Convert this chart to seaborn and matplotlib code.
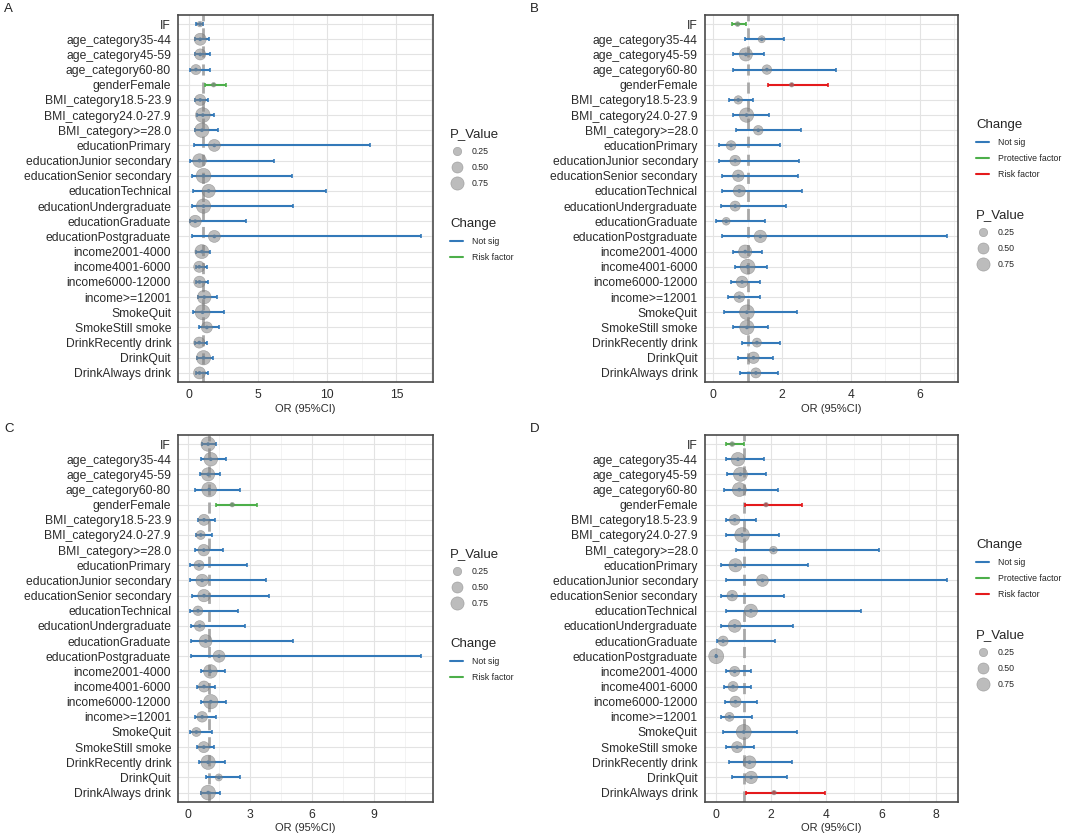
import matplotlib
matplotlib.use("Agg")
import matplotlib.pyplot as plt
from matplotlib.lines import Line2D
from matplotlib.ticker import MultipleLocator
import numpy as np
import pandas as pd
import seaborn as sns


sns.set_theme(style="white")
plt.rcParams["font.family"] = ["Liberation Sans", "DejaVu Sans"]

variables = [
    "IF", "age_category35-44", "age_category45-59", "age_category60-80",
    "genderFemale", "BMI_category18.5-23.9", "BMI_category24.0-27.9",
    "BMI_category>=28.0", "educationPrimary", "educationJunior secondary",
    "educationSenior secondary", "educationTechnical", "educationUndergraduate",
    "educationGraduate", "educationPostgraduate", "income2001-4000",
    "income4001-6000", "income6000-12000", "income>=12001", "SmokeQuit",
    "SmokeStill smoke", "DrinkRecently drink", "DrinkQuit", "DrinkAlways drink",
]

# panel A
or_a = [0.80, 0.82, 0.82, 0.51, 1.79, 0.82, 1.01, 0.94, 1.84, 0.77, 1.06, 1.43,
        1.06, 0.46, 1.84, 0.94, 0.75, 0.77, 1.11, 0.99, 1.30, 0.75, 1.06, 0.77]
lo_a = [0.53, 0.46, 0.41, 0.05, 1.14, 0.46, 0.58, 0.41, 0.39, 0.05, 0.22, 0.29,
        0.22, 0.05, 0.22, 0.53, 0.48, 0.48, 0.65, 0.29, 0.70, 0.46, 0.58, 0.48]
hi_a = [1.01, 1.43, 1.55, 1.50, 2.71, 1.35, 1.79, 2.08, 13.06, 6.14, 7.46, 9.88,
        7.54, 4.13, 16.8, 1.50, 1.30, 1.35, 2.03, 2.51, 2.20, 1.30, 1.71, 1.38]
p_a = [0.06, 0.60, 0.50, 0.40, 0.01, 0.50, 0.95, 0.90, 0.60, 0.80, 0.95, 0.75,
       0.90, 0.60, 0.60, 0.85, 0.50, 0.55, 0.80, 0.98, 0.50, 0.50, 0.90, 0.60]
change_a = ["Not sig"] * 4 + ["Risk factor"] + ["Not sig"] * 19

# panel B
or_b = [0.71, 1.41, 0.95, 1.56, 2.28, 0.73, 0.97, 1.31, 0.52, 0.64, 0.73, 0.76,
        0.64, 0.38, 1.37, 0.93, 1.00, 0.84, 0.76, 0.98, 0.98, 1.27, 1.17, 1.24]
lo_b = [0.54, 0.93, 0.59, 0.59, 1.60, 0.47, 0.59, 0.67, 0.16, 0.16, 0.25, 0.25,
        0.23, 0.09, 0.25, 0.59, 0.64, 0.52, 0.42, 0.31, 0.59, 0.83, 0.73, 0.79]
hi_b = [0.95, 2.07, 1.47, 3.58, 3.33, 1.15, 1.63, 2.54, 1.94, 2.48, 2.45, 2.57,
        2.11, 1.50, 6.78, 1.41, 1.56, 1.37, 1.37, 2.42, 1.60, 1.94, 1.74, 1.87]
p_b = [0.02, 0.15, 0.75, 0.35, 0.01, 0.25, 0.90, 0.35, 0.35, 0.45, 0.55, 0.60,
       0.40, 0.20, 0.65, 0.75, 0.98, 0.55, 0.45, 0.95, 0.90, 0.30, 0.55, 0.40]
change_b = ["Protective factor"] + ["Not sig"] * 3 + ["Risk factor"] + ["Not sig"] * 19

# panel C
or_c = [0.96, 1.09, 0.96, 1.01, 2.13, 0.76, 0.60, 0.75, 0.52, 0.67, 0.76, 0.47,
        0.55, 0.84, 1.49, 1.07, 0.76, 1.09, 0.67, 0.39, 0.75, 0.96, 1.48, 0.96]
lo_c = [0.68, 0.63, 0.55, 0.31, 1.36, 0.47, 0.36, 0.31, 0.10, 0.10, 0.18, 0.10,
        0.11, 0.11, 0.15, 0.63, 0.44, 0.60, 0.31, 0.06, 0.44, 0.52, 0.88, 0.60]
hi_c = [1.33, 1.82, 1.53, 2.50, 3.34, 1.31, 1.15, 1.66, 2.86, 3.77, 3.93, 2.42,
        2.74, 5.06, 11.3, 1.77, 1.31, 1.85, 1.33, 1.15, 1.25, 1.77, 2.50, 1.56]
p_c = [0.90, 0.80, 0.75, 0.95, 0.01, 0.50, 0.30, 0.55, 0.40, 0.65, 0.65, 0.35,
       0.45, 0.70, 0.60, 0.80, 0.50, 0.90, 0.45, 0.30, 0.50, 0.90, 0.15, 0.95]
change_c = ["Not sig"] * 4 + ["Risk factor"] + ["Not sig"] * 19

# panel D
or_d = [0.58, 0.79, 0.88, 0.84, 1.81, 0.67, 0.94, 2.08, 0.70, 1.68, 0.58, 1.26,
        0.67, 0.25, 0.00, 0.67, 0.61, 0.70, 0.48, 1.00, 0.76, 1.21, 1.27, 2.10]
lo_d = [0.36, 0.34, 0.40, 0.28, 1.06, 0.34, 0.37, 0.73, 0.16, 0.37, 0.16, 0.34,
        0.19, 0.01, 0.00, 0.36, 0.30, 0.31, 0.16, 0.24, 0.37, 0.48, 0.58, 1.09]
hi_d = [1.00, 1.75, 1.80, 2.26, 3.13, 1.45, 2.28, 5.92, 3.34, 8.38, 2.47, 5.28,
        2.80, 2.14, 0.00, 1.26, 1.27, 1.48, 1.30, 2.95, 1.38, 2.77, 2.59, 3.96]
p_d = [0.02, 0.80, 0.85, 0.85, 0.01, 0.45, 0.95, 0.20, 0.75, 0.60, 0.45, 0.75,
       0.70, 0.40, 0.99, 0.40, 0.40, 0.50, 0.30, 0.98, 0.50, 0.70, 0.65, 0.01]
change_d = (["Protective factor"] + ["Not sig"] * 3 + ["Risk factor"]
            + ["Not sig"] * 18 + ["Risk factor"])

blue, green, red = "#3379B9", "#4DAF4A", "#E41A1C"
palette_two = {"Not sig": blue, "Risk factor": green}
palette_three = {"Not sig": blue, "Protective factor": green, "Risk factor": red}

size_range = (10, 118)
circle_color = "#858585"
text_color = "#2b2b2b"


#
def draw_panel(ax, or_vals, lo_vals, hi_vals, p_vals, changes, palette, step):
    df = pd.DataFrame({
        "Variable": variables, "OR": or_vals, "lower": lo_vals,
        "upper": hi_vals, "P_Value": p_vals, "Change": changes,
    })
    df["row"] = np.arange(len(df))

    ax.axvline(1, color="#a8a8a8", lw=2.0, ls=(0, (4, 2.5)), zorder=1)
    for change, sub in df.groupby("Change"):
        ax.errorbar(sub["OR"], sub["row"],
                    xerr=[sub["OR"] - sub["lower"], sub["upper"] - sub["OR"]],
                    fmt="none", ecolor=palette[change], elinewidth=1.5,
                    capsize=1.3, capthick=1.2, zorder=2)
    sns.scatterplot(data=df, x="OR", y="row", hue="Change", palette=palette,
                    s=7, linewidth=0, legend=False, ax=ax, zorder=3)
    sns.scatterplot(data=df, x="OR", y="row", size="P_Value", sizes=size_range,
                    size_norm=(0, 1), color=circle_color, alpha=0.55,
                    edgecolor="#6e6e6e", linewidth=0.4, legend=False, ax=ax,
                    zorder=4)

    ax.set_yticks(df["row"], df["Variable"])
    ax.set_ylim(len(df) - 0.4, -0.6)
    ax.xaxis.set_major_locator(MultipleLocator(step))
    ax.xaxis.set_minor_locator(MultipleLocator(step / 2))
    ax.grid(which="major", color="#e3e3e3", lw=0.8)
    ax.grid(which="minor", axis="x", color="#eeeeee", lw=0.5)
    ax.set_axisbelow(True)
    ax.tick_params(axis="both", which="major", length=3, width=0.8,
                   color=text_color, labelsize=8.7, labelcolor=text_color, pad=2)
    ax.tick_params(axis="x", which="minor", length=0)
    for spine in ax.spines.values():
        spine.set_color("#4a4a4a")
        spine.set_linewidth(1.2)
    ax.set_xlabel("OR (95%CI)", fontsize=8, color=text_color, labelpad=2)
    ax.set_ylabel("")


#
def add_legends(fig, palette, size_pos, change_pos):
    size_levels = [0.25, 0.50, 0.75]
    size_handles = [
        Line2D([], [], ls="", marker="o", color=circle_color, alpha=0.55,
               markeredgecolor="#6e6e6e", markeredgewidth=0.4,
               markersize=np.sqrt(size_range[0] + (size_range[1] - size_range[0]) * v))
        for v in size_levels
    ]
    fig.legend(size_handles, [f"{v:.2f}" for v in size_levels], title="P_Value",
               loc="upper left", bbox_to_anchor=size_pos, frameon=False,
               fontsize=6.3, title_fontsize=9.5, alignment="left", borderpad=0,
               borderaxespad=0, handlelength=1.5, handletextpad=1.0,
               labelspacing=0.8)
    change_handles = [Line2D([], [], color=c, lw=1.5) for c in palette.values()]
    fig.legend(change_handles, list(palette.keys()), title="Change",
               loc="upper left", bbox_to_anchor=change_pos, frameon=False,
               fontsize=6.3, title_fontsize=9.5, alignment="left", borderpad=0,
               borderaxespad=0, handlelength=1.5, handletextpad=1.0,
               labelspacing=0.8)


fig = plt.figure(figsize=(10.65, 8.33), dpi=100)
ax_a = fig.add_axes([0.1671, 0.5414, 0.2394, 0.4406])
ax_b = fig.add_axes([0.6617, 0.5414, 0.2381, 0.4406])
ax_c = fig.add_axes([0.1671, 0.0376, 0.2394, 0.4402])
ax_d = fig.add_axes([0.6617, 0.0376, 0.2381, 0.4402])

draw_panel(ax_a, or_a, lo_a, hi_a, p_a, change_a, palette_two, 5)
draw_panel(ax_b, or_b, lo_b, hi_b, p_b, change_b, palette_three, 2)
draw_panel(ax_c, or_c, lo_c, hi_c, p_c, change_c, palette_two, 3)
draw_panel(ax_d, or_d, lo_d, hi_d, p_d, change_d, palette_three, 2)

add_legends(fig, palette_two, (0.4225, 0.8463), (0.4225, 0.7383))
add_legends(fig, palette_three, (0.9164, 0.749), (0.9164, 0.857))
add_legends(fig, palette_two, (0.4225, 0.342), (0.4225, 0.234))
add_legends(fig, palette_three, (0.9164, 0.245), (0.9164, 0.353))

for letter, x, y in [("A", 0.004, 0.989), ("B", 0.498, 0.989),
                     ("C", 0.004, 0.485), ("D", 0.498, 0.485)]:
    fig.text(x, y, letter, fontsize=9.5, color="#222222", va="center", ha="left")

fig.savefig("out.png", dpi=100)
